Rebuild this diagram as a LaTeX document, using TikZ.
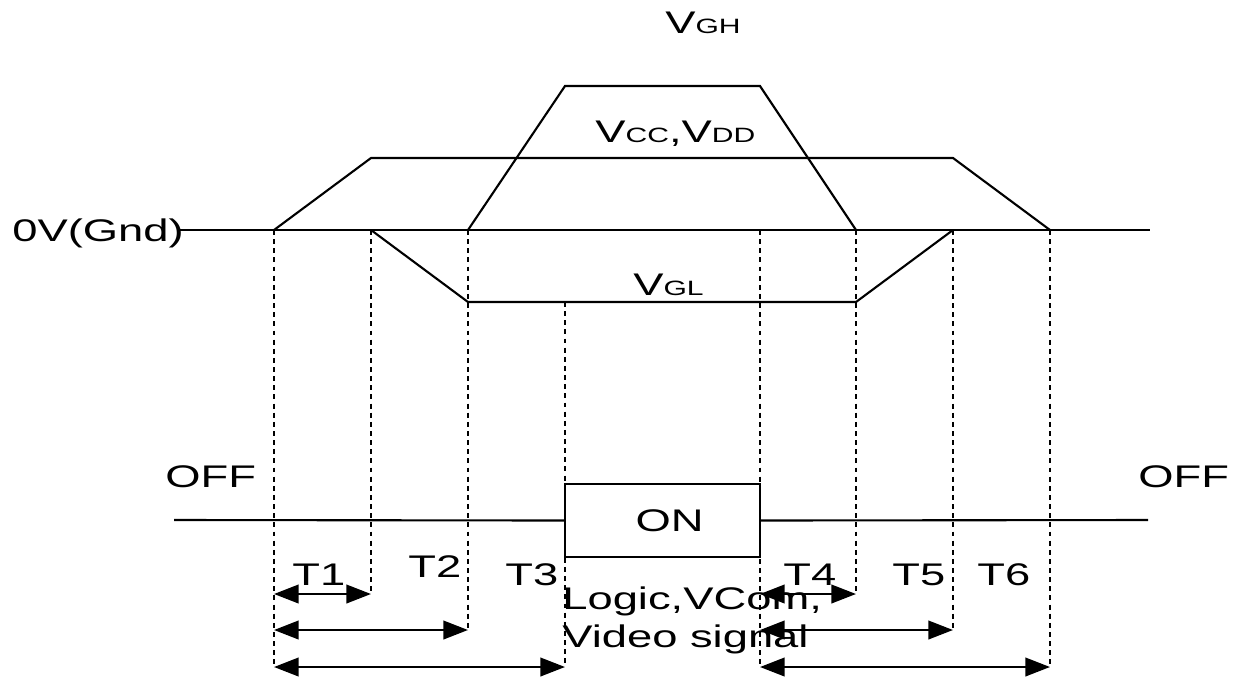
\documentclass[tikz,border=0pt]{standalone}
\usepackage{fontspec}
\setmainfont{Liberation Sans}[FakeStretch=1.45]
\usetikzlibrary{arrows.meta}
\newcommand{\lblfont}{\fontsize{17.8}{20}\selectfont}
\newcommand{\lo}[1]{{\fontsize{11.8}{12}\selectfont #1}}

\begin{document}
\begin{tikzpicture}[x=0.02cm, y=-0.02cm, >={Triangle[length=14pt,width=10.5pt]},
    wave/.style={line width=1.2pt, black},
    guide/.style={line width=1pt, dash pattern=on 2.8pt off 2.4pt},
    span/.style={<->, line width=1.4pt},
    lbl/.style={inner sep=0pt, anchor=base west, font=\lblfont},
    onbox/.style={draw, line width=1.2pt, minimum width=3.9cm, minimum height=1.46cm, font=\lblfont}]

    \useasboundingbox (0,0) rectangle (1247,677);

    % Time marks on the ground line
    \foreach \name/\x in {a/274, b/371, c/468, d/565, e/760, f/856, g/953, h/1050}
        \coordinate (\name) at (\x,230);

    % Arrow rows
    \coordinate (r1) at (0,594);
    \coordinate (r2) at (0,630);
    \coordinate (r3) at (0,667);

    % Ground line
    \node[lbl] (gnd) at (12,241) {0V(Gnd)};
    \coordinate (gndend) at (1150,230);
    \draw[wave] (180,230) -- (gndend);

    % Supply levels
    \coordinate (vcctopl) at (371,158);
    \coordinate (vcctopr) at (953,158);
    \coordinate (vghtopl) at (565,86);
    \coordinate (vghtopr) at (760,86);
    \coordinate (vglbotl) at (468,302);
    \coordinate (vglbotr) at (856,302);
    \draw[wave] (a) -- (vcctopl) -- (vcctopr) -- (h);
    \draw[wave] (c) -- (vghtopl) -- (vghtopr) -- (f);
    \draw[wave] (b) -- (vglbotl) -- (vglbotr) -- (g);

    \node[lbl] (vgh) at (665,33) {V\lo{GH}};
    \node[lbl] (vcc) at (595,142) {V\lo{CC},V\lo{DD}};
    \node[lbl] (vgl) at (633,295) {V\lo{GL}};

    % Guides
    \draw[guide] (a) -- (a |- r3);
    \draw[guide] (b) -- (b |- r1);
    \draw[guide] (c) -- (c |- r2);
    \draw[guide] (vglbotl -| d) -- (d |- r3);
    \draw[guide] (e) -- (e |- r3);
    \draw[guide] (f) -- (f |- r1);
    \draw[guide] (g) -- (g |- r2);
    \draw[guide] (h) -- (h |- r3);

    % Signal line
    \node[onbox] (on) at (662.5,520.5) {\hspace*{8pt}ON};
    \coordinate (sigl) at (174,520);
    \coordinate (sigr) at (1148,520);
    \draw[wave] (sigl) -- (on.west);
    \draw[wave] (on.east) -- (sigr);
    \node[lbl] (offl) at (165,487) {OFF};
    \node[lbl] (offr) at (1138,487) {OFF};

    % Intervals
    \draw[span] (a |- r1) -- (b |- r1);
    \draw[span] (a |- r2) -- (c |- r2);
    \draw[span] (a |- r3) -- (d |- r3);
    \draw[span] (e |- r1) -- (f |- r1);
    \draw[span] (e |- r2) -- (g |- r2);
    \draw[span] (e |- r3) -- (h |- r3);

    \node[lbl] (t1) at (292,585) {T1};
    \node[lbl] (t2) at (408,577) {T2};
    \node[lbl] (t3) at (505,585) {T3};
    \node[lbl] (t4) at (783,585) {T4};
    \node[lbl] (t5) at (892,585) {T5};
    \node[lbl] (t6) at (977,585) {T6};

    \node[lbl] (logic) at (562,609) {Logic,VCom,};
    \node[lbl] (video) at (562,647) {Video signal};

\end{tikzpicture}
\end{document}
